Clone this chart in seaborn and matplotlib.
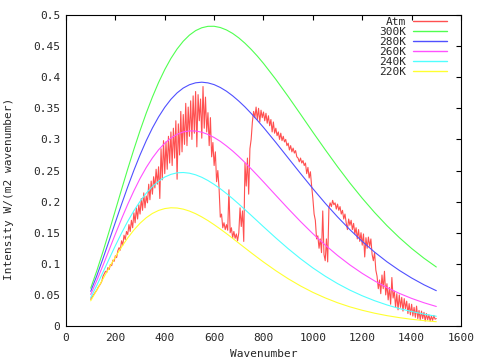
import numpy as np
import seaborn as sns
import matplotlib
matplotlib.use('Agg')
import matplotlib.pyplot as plt

sns.set_style("white")
plt.rcParams['font.family'] = ['DejaVu Sans Mono']

# blackbody curves: every 25 wavenumbers up to 775, then every 50
wn = list(range(100, 800, 25)) + list(range(800, 1501, 50))
b300 = [0.0608, 0.0890, 0.1199, 0.1525, 0.1860, 0.2195, 0.2524, 0.2841, 0.3142, 0.3423,
        0.3681, 0.3915, 0.4122, 0.4302, 0.4454, 0.4579, 0.4677, 0.4749, 0.4795, 0.4818,
        0.4819, 0.4799, 0.4760, 0.4704, 0.4632, 0.4546, 0.4448, 0.4340,
        0.4222, 0.3965, 0.3690, 0.3405, 0.3117, 0.2835, 0.2561, 0.2299, 0.2054, 0.1825,
        0.1614, 0.1422, 0.1247, 0.1090, 0.0949]
b280 = [0.0557, 0.0811, 0.1087, 0.1376, 0.1668, 0.1957, 0.2237, 0.2503, 0.2751, 0.2979,
        0.3183, 0.3362, 0.3516, 0.3645, 0.3748, 0.3826, 0.3879, 0.3910, 0.3920, 0.3909,
        0.3881, 0.3835, 0.3775, 0.3701, 0.3616, 0.3522, 0.3418, 0.3308,
        0.3193, 0.2951, 0.2701, 0.2452, 0.2208, 0.1974, 0.1754, 0.1549, 0.1360, 0.1188,
        0.1033, 0.0895, 0.0772, 0.0663, 0.0568]
b260 = [0.0506, 0.0733, 0.0976, 0.1227, 0.1479, 0.1723, 0.1956, 0.2173, 0.2372, 0.2548,
        0.2702, 0.2833, 0.2939, 0.3022, 0.3082, 0.3120, 0.3137, 0.3135, 0.3116, 0.3080,
        0.3031, 0.2969, 0.2895, 0.2814, 0.2724, 0.2628, 0.2527, 0.2423,
        0.2317, 0.2101, 0.1887, 0.1680, 0.1484, 0.1302, 0.1134, 0.0982, 0.0846, 0.0725,
        0.0618, 0.0525, 0.0444, 0.0374, 0.0314]
b240 = [0.0456, 0.0655, 0.0866, 0.1081, 0.1292, 0.1494, 0.1682, 0.1853, 0.2004, 0.2135,
        0.2243, 0.2327, 0.2395, 0.2438, 0.2463, 0.2468, 0.2457, 0.2431, 0.2391, 0.2339,
        0.2277, 0.2207, 0.2130, 0.2048, 0.1961, 0.1871, 0.1780, 0.1688,
        0.1596, 0.1416, 0.1243, 0.1082, 0.0934, 0.0801, 0.0682, 0.0577, 0.0486, 0.0407,
        0.0339, 0.0281, 0.0233, 0.0191, 0.0157]
b220 = [0.0405, 0.0578, 0.0758, 0.0937, 0.1109, 0.1270, 0.1416, 0.1544, 0.1653, 0.1741,
        0.1810, 0.1858, 0.1888, 0.1901, 0.1897, 0.1879, 0.1848, 0.1806, 0.1754, 0.1695,
        0.1629, 0.1559, 0.1486, 0.1410, 0.1332, 0.1255, 0.1178, 0.1103,
        0.1029, 0.0889, 0.0760, 0.0644, 0.0541, 0.0452, 0.0374, 0.0308, 0.0253, 0.0206,
        0.0167, 0.0135, 0.0108, 0.0087, 0.0069]

# measured atmosphere spectrum, every 5 wavenumbers
atm_wn = np.arange(100, 1501, 5)
atm = [
    0.043, 0.046, 0.049, 0.052, 0.055, 0.058, 0.062, 0.065, 0.068, 0.072,  # 100
    0.080, 0.084, 0.088, 0.086, 0.094, 0.091, 0.099, 0.097, 0.106, 0.104,  # 150
    0.113, 0.110, 0.121, 0.126, 0.122, 0.137, 0.130, 0.146, 0.139, 0.152,  # 200
    0.147, 0.163, 0.152, 0.170, 0.158, 0.182, 0.166, 0.190, 0.172, 0.195,  # 250
    0.180, 0.205, 0.186, 0.214, 0.190, 0.209, 0.198, 0.228, 0.203, 0.233,  # 300
    0.212, 0.240, 0.222, 0.252, 0.228, 0.256, 0.205, 0.285, 0.235, 0.298,  # 350
    0.245, 0.296, 0.252, 0.305, 0.262, 0.312, 0.258, 0.318, 0.270, 0.330,  # 400
    0.236, 0.325, 0.275, 0.345, 0.280, 0.340, 0.292, 0.358, 0.290, 0.352,  # 450
    0.305, 0.362, 0.300, 0.370, 0.310, 0.377, 0.288, 0.372, 0.330, 0.365,  # 500
    0.302, 0.385, 0.318, 0.368, 0.312, 0.343, 0.290, 0.335, 0.272, 0.295,  # 550
    0.258, 0.280, 0.232, 0.250, 0.222, 0.175, 0.180, 0.158, 0.166, 0.155,  # 600
    0.163, 0.154, 0.219, 0.150, 0.158, 0.142, 0.152, 0.141, 0.148, 0.137,  # 650
    0.150, 0.190, 0.160, 0.185, 0.136, 0.262, 0.225, 0.270, 0.212, 0.285,  # 700
    0.300, 0.328, 0.345, 0.335, 0.352, 0.332, 0.350, 0.328, 0.347, 0.335,  # 750
    0.344, 0.330, 0.342, 0.326, 0.338, 0.322, 0.332, 0.312, 0.328, 0.310,  # 800
    0.318, 0.306, 0.312, 0.300, 0.310, 0.298, 0.305, 0.296, 0.300, 0.290,  # 850
    0.294, 0.283, 0.290, 0.280, 0.286, 0.278, 0.282, 0.272, 0.270, 0.264,  # 900
    0.270, 0.262, 0.266, 0.258, 0.262, 0.245, 0.255, 0.238, 0.248, 0.225,  # 950
    0.205, 0.180, 0.170, 0.140, 0.145, 0.125, 0.140, 0.118, 0.185, 0.115,  # 1000
    0.105, 0.140, 0.103, 0.190, 0.198, 0.192, 0.202, 0.195, 0.198, 0.188,  # 1050
    0.196, 0.186, 0.192, 0.180, 0.186, 0.172, 0.180, 0.166, 0.155, 0.172,  # 1100
    0.162, 0.170, 0.155, 0.165, 0.148, 0.158, 0.140, 0.155, 0.136, 0.150,  # 1150
    0.130, 0.148, 0.111, 0.142, 0.125, 0.143, 0.128, 0.140, 0.115, 0.105,  # 1200
    0.118, 0.090, 0.080, 0.060, 0.074, 0.052, 0.082, 0.060, 0.088, 0.050,  # 1250
    0.068, 0.042, 0.062, 0.035, 0.078, 0.045, 0.056, 0.030, 0.052, 0.026,  # 1300
    0.050, 0.030, 0.046, 0.024, 0.044, 0.028, 0.040, 0.020, 0.036, 0.018,  # 1350
    0.035, 0.016, 0.030, 0.014, 0.032, 0.012, 0.025, 0.010, 0.024, 0.012,  # 1400
    0.022, 0.008, 0.020, 0.010, 0.018, 0.008, 0.016, 0.009, 0.017, 0.011,  # 1450
    0.012,
]

fig = plt.figure(figsize=(4.8, 3.6), dpi=100)
ax = fig.add_axes([0.1375, 0.0944, 0.8229, 0.8639])

LW = 0.8
sns.lineplot(x=atm_wn, y=atm, color='#ff5050', linewidth=LW, label='Atm',
             errorbar=None, ax=ax)
curves = [('300K', b300, '#50ff50'), ('280K', b280, '#5050ff'),
          ('260K', b260, '#ff50ff'), ('240K', b240, '#50ffff'),
          ('220K', b220, '#ffff30')]
for name, vals, col in curves:
    sns.lineplot(x=wn, y=vals, color=col, linewidth=LW, label=name,
                 errorbar=None, ax=ax)

ax.set_xlim(0, 1600)
ax.set_ylim(0, 0.5)
ax.set_xticks(np.arange(0, 1601, 200))
yt = np.arange(0, 0.501, 0.05)
ax.set_yticks(yt)
ax.set_yticklabels([f'{v:g}' for v in yt])
ax.tick_params(direction='in', top=True, right=True, length=3.5, width=0.8,
               labelsize=8, color='black')
ax.tick_params(axis='x', pad=5)
ax.tick_params(axis='y', pad=4)
for s in ax.spines.values():
    s.set_color('black')
    s.set_linewidth(0.8)

ax.set_xlabel('Wavenumber', fontsize=8)
ax.set_ylabel('Intensity W/(m2 wavenumber)', fontsize=8)
ax.xaxis.set_label_coords(0.5, -0.074)
ax.yaxis.set_label_coords(-0.132, 0.44)

leg = ax.legend(loc='upper right', bbox_to_anchor=(0.9646, 0.9936), frameon=False,
                markerfirst=False, handlelength=3.06, handletextpad=0.63,
                fontsize=8, labelspacing=0.0, borderaxespad=0, borderpad=0)
for h in leg.get_lines():
    h.set_linewidth(1.0)

plt.savefig('out.png', dpi=100)
